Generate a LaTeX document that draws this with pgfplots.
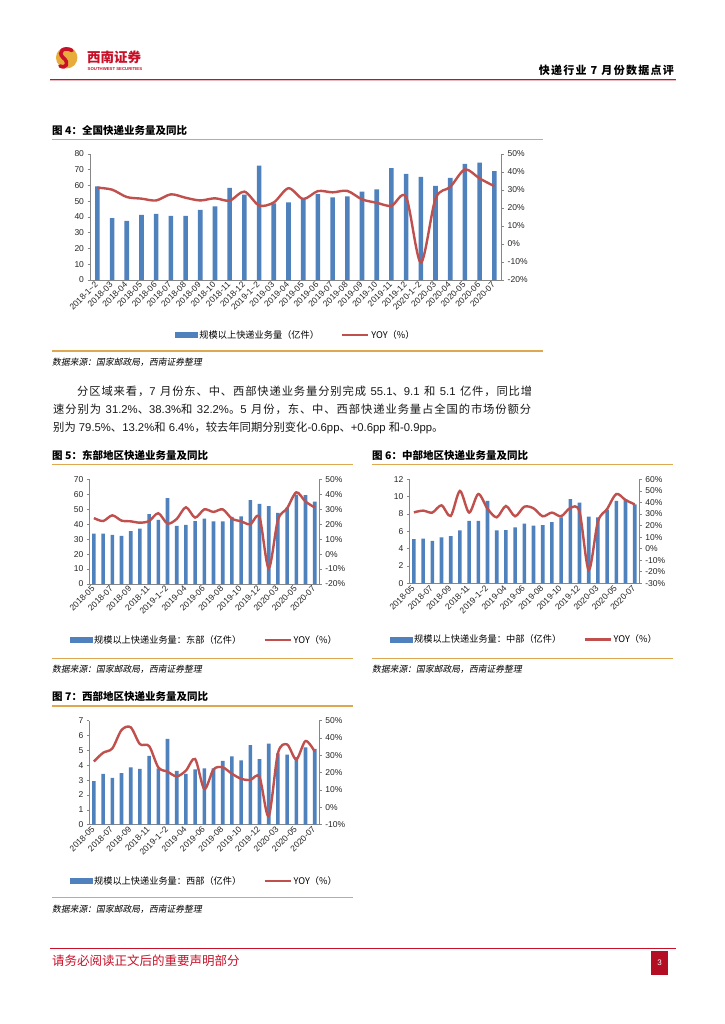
\documentclass[border=0pt]{standalone}
\usepackage{fontspec}
\setmainfont{Liberation Sans}
\newfontfamily\cjk{Noto Sans CJK SC}
\newfontfamily\cjkit[FakeSlant=0.18]{Noto Sans CJK SC}
\usepackage{pgfplots}
\pgfplotsset{compat=1.18}

% stretchable glue between CJK characters (for the justified lines)
\XeTeXinterchartokenstate=1
\newXeTeXintercharclass\cjkcls
\newcount\cc
\def\setcls#1#2{\cc=#1\relax\loop\XeTeXcharclass\cc=\cjkcls\relax\ifnum\cc<#2\relax\advance\cc by 1\relax\repeat}
\setcls{"4E00}{"9FFF}
\setcls{"3000}{"303F}
\setcls{"FF00}{"FFEF}
\XeTeXinterchartoks\cjkcls\cjkcls={\hskip0pt plus 1pt\relax}

\definecolor{barblue}{RGB}{79,129,189}
\definecolor{yoyred}{RGB}{192,80,77}
\definecolor{gold}{RGB}{222,168,80}
\definecolor{hdrred}{RGB}{200,16,40}
\definecolor{axgray}{RGB}{134,134,134}
\definecolor{logogold}{RGB}{232,172,60}

\pgfplotsset{
  chartbase/.style={
    scale only axis, clip=false,
    tick align=outside, major tick length=2.5pt,
    axis line style={draw=axgray, line width=0.6pt},
    tick style={draw=axgray, line width=0.6pt},
    ticklabel style={font=\fontsize{8.5}{9}\selectfont, text=black!85},
    /pgf/number format/assume math mode=true,
  },
  barax/.style={chartbase, axis x line*=bottom, axis y line*=left,
    ybar, bar width=#1, ymin=0, xtick style={draw=none},
    xticklabel style={rotate=45, anchor=east, inner sep=1pt}},
  lineax/.style={chartbase, axis y line*=right, axis x line=none,
    yticklabel={\pgfmathprintnumber{\tick}\%},
    legend columns=2, legend cell align=left,
    legend style={draw=none, fill=none, anchor=center,
      font=\cjk\fontsize{9.2}{10}\selectfont,
      /tikz/every even column/.append style={column sep=20pt}}},
  barkey/.style={legend image code/.code={\fill[barblue] (0pt,-2.6pt) rectangle (22pt,2.6pt);}},
  linekey/.style={legend image code/.code={\draw[yoyred, line width=2.4pt] (0pt,0pt) -- (26pt,0pt);}},
}

\begin{document}
\begin{tikzpicture}[x=1pt, y=-1pt]
\path[use as bounding box, fill=white] (0,0) rectangle (724,1024);

% ---- header
\fill[logogold] (66.7,57.7) circle (10.7);
\draw[hdrred, line width=3.6pt, line cap=round] (72,50.5) .. controls (64,46) and (57,52) .. (63,57.5) .. controls (70,63) and (66,69) .. (60,66);
\node[anchor=west, inner sep=0, text=hdrred, font=\cjk\bfseries\fontsize{13.5}{14}\selectfont] at (87,57.5) {西南证券};
\node[anchor=west, inner sep=0, text=hdrred, font=\bfseries\fontsize{4.3}{5}\selectfont] at (87.5,68.7) {SOUTHWEST SECURITIES};
\node[anchor=east, inner sep=0, font=\cjk\bfseries\fontsize{11}{12}\selectfont] at (674,70) {\makebox[135pt][s]{快递行业 7 月份数据点评}};
\draw[hdrred, line width=1.2pt] (50,79.3) -- (676,79.3);
\draw[hdrred!30, line width=0.6pt] (50,80.6) -- (676,80.6);

% ---- figure 4
\node[anchor=west, inner sep=0, font=\cjk\bfseries\fontsize{10.5}{11}\selectfont] at (52,131) {图 4：全国快递业务量及同比};
\draw[gold, line width=1.2pt] (52,139.5) -- (543,139.5);
\begin{axis}[barax=4.6pt, at={(90pt,-280pt)}, anchor=south west,
  width=411.7pt, height=126pt, xmin=-0.5, xmax=27.5, ymax=80, ytick={0,10,...,80},
  xtick={0,...,27},
  xticklabels={2018-1\textasciitilde2,2018-03,2018-04,2018-05,2018-06,2018-07,2018-08,2018-09,2018-10,2018-11,2018-12,2019-1\textasciitilde2,2019-03,2019-04,2019-05,2019-06,2019-07,2019-08,2019-09,2019-10,2019-11,2019-12,2020-1\textasciitilde2,2020-03,2020-04,2020-05,2020-06,2020-07}]
\addplot[fill=barblue, draw=none] coordinates {
 (0,59.5) (1,39.3) (2,37.5) (3,41.4) (4,42.0) (5,40.7) (6,40.7) (7,44.6) (8,46.7) (9,58.5)
 (10,54.2) (11,72.7) (12,48.6) (13,49.3) (14,51.4) (15,54.6) (16,52.5) (17,53.1) (18,56.1)
 (19,57.6) (20,71.0) (21,67.4) (22,65.5) (23,59.7) (24,64.8) (25,73.8) (26,74.6) (27,69.1)};
\end{axis}
\begin{axis}[lineax, at={(90pt,-280pt)}, anchor=south west,
  width=411.7pt, height=126pt, xmin=-0.5, xmax=27.5, ymin=-20, ymax=50, ytick={-20,-10,...,50},
  legend style={at={(0.5,-0.437)}}]
\addlegendimage{barkey}
\addlegendentry{规模以上快递业务量（亿件）}
\addplot[yoyred, line width=2.4pt, smooth, linekey] coordinates {
 (0,31.3) (1,30.2) (2,26.1) (3,25.2) (4,24.2) (5,27.6) (6,25.7) (7,24.2) (8,25.4) (9,24.1)
 (10,29.1) (11,21.4) (12,23.1) (13,31.0) (14,25.0) (15,29.4) (16,28.7) (17,29.5) (18,24.8)
 (19,22.9) (20,21.2) (21,26.1) (22,-10.3) (23,25.2) (24,31.7) (25,41.4) (26,36.4) (27,32.1)};
\addlegendentry{YOY（\%）}
\end{axis}
\draw[gold, line width=1.2pt] (52,351) -- (543,351);
\node[anchor=west, inner sep=0, font=\cjkit\fontsize{8.8}{9}\selectfont] at (52,362.5) {数据来源：国家邮政局，西南证券整理};

% ---- body text
\begin{scope}[every node/.style={anchor=west, inner sep=0, font=\fontsize{11.3}{13}\selectfont, text=black!90}]
\node at (77,391.5) {\makebox[455pt][s]{{\cjk 分区域来看，}7 {\cjk 月份东、中、西部快递业务量分别完成} 55.1{\cjk 、}9.1 {\cjk 和} 5.1 {\cjk 亿件，同比增}}};
\node at (53,409.5) {\makebox[478pt][s]{{\cjk 速分别为} 31.2\%{\cjk 、}38.3\%{\cjk 和} 32.2\%{\cjk 。}5 {\cjk 月份，东、中、西部快递业务量占全国的市场份额分}}};
\node at (53,428.3) {{\cjk 别为} 79.5\%{\cjk 、}13.2\%{\cjk 和} 6.4\%{\cjk ，较去年同期分别变化}-0.6pp{\cjk 、}+0.6pp {\cjk 和}-0.9pp{\cjk 。}};
\end{scope}

% ---- figure 5
\node[anchor=west, inner sep=0, font=\cjk\bfseries\fontsize{10.5}{11}\selectfont] at (52,455) {图 5：东部地区快递业务量及同比};
\draw[gold, line width=1.2pt] (52,464.3) -- (353,464.3);
\begin{axis}[barax=3.6pt, at={(89.3pt,-584pt)}, anchor=south west,
  width=230pt, height=104.7pt, xmin=-0.5, xmax=24.5, ymax=70, ytick={0,10,...,70},
  xtick={0,2,...,24},
  xticklabels={2018-05,2018-07,2018-09,2018-11,2019-1\textasciitilde2,2019-04,2019-06,2019-08,2019-10,2019-12,2020-03,2020-05,2020-07}]
\addplot[fill=barblue, draw=none] coordinates {
 (0,33.7) (1,33.7) (2,32.8) (3,32.1) (4,35.4) (5,37.0) (6,46.8) (7,42.8) (8,57.5) (9,38.8)
 (10,39.5) (11,42.1) (12,43.7) (13,41.9) (14,41.9) (15,44.8) (16,45.3) (17,56.0) (18,53.5)
 (19,52.0) (20,47.5) (21,51.0) (22,59.7) (23,59.5) (24,55.1)};
\end{axis}
\begin{axis}[lineax, at={(89.3pt,-584pt)}, anchor=south west,
  width=230pt, height=104.7pt, xmin=-0.5, xmax=24.5, ymin=-20, ymax=50, ytick={-20,-10,...,50},
  legend style={at={(0.5,-0.535)}}]
\addlegendimage{barkey}
\addlegendentry{规模以上快递业务量：东部（亿件）}
\addplot[yoyred, line width=2.4pt, smooth, linekey] coordinates {
 (0,24.1) (1,22.1) (2,25.9) (3,22.4) (4,21.9) (5,21.0) (6,22.1) (7,27.3) (8,20.4) (9,23.5)
 (10,31.3) (11,24.4) (12,29.9) (13,28.2) (14,29.9) (15,23.7) (16,21.9) (17,19.9) (18,24.6)
 (19,-9.5) (20,22.8) (21,30.6) (22,41.3) (23,35.1) (24,31.2)};
\addlegendentry{YOY（\%）}
\end{axis}
\draw[gold, line width=1.2pt] (52,658.3) -- (353,658.3);
\node[anchor=west, inner sep=0, font=\cjkit\fontsize{8.8}{9}\selectfont] at (52,669) {数据来源：国家邮政局，西南证券整理};

% ---- figure 6
\node[anchor=west, inner sep=0, font=\cjk\bfseries\fontsize{10.5}{11}\selectfont] at (372,455) {图 6：中部地区快递业务量及同比};
\draw[gold, line width=1.2pt] (372,464.3) -- (673,464.3);
\begin{axis}[barax=3.6pt, at={(409.3pt,-583.3pt)}, anchor=south west,
  width=230pt, height=104pt, xmin=-0.5, xmax=24.5, ymax=12, ytick={0,2,...,12},
  xtick={0,2,...,24},
  xticklabels={2018-05,2018-07,2018-09,2018-11,2019-1\textasciitilde2,2019-04,2019-06,2019-08,2019-10,2019-12,2020-03,2020-05,2020-07}]
\addplot[fill=barblue, draw=none] coordinates {
 (0,5.1) (1,5.15) (2,4.9) (3,5.3) (4,5.45) (5,6.1) (6,7.2) (7,7.2) (8,9.5) (9,6.1)
 (10,6.15) (11,6.45) (12,6.9) (13,6.65) (14,6.7) (15,7.05) (16,7.6) (17,9.7) (18,9.3)
 (19,7.7) (20,7.6) (21,8.5) (22,9.5) (23,9.7) (24,9.1)};
\end{axis}
\begin{axis}[lineax, at={(409.3pt,-583.3pt)}, anchor=south west,
  width=230pt, height=104pt, xmin=-0.5, xmax=24.5, ymin=-30, ymax=60, ytick={-30,-20,...,60},
  legend style={at={(0.5,-0.54)}}]
\addlegendimage{barkey}
\addlegendentry{规模以上快递业务量：中部（亿件）}
\addplot[yoyred, line width=2.4pt, smooth, linekey] coordinates {
 (0,31.4) (1,32.9) (2,31.2) (3,37.5) (4,28.3) (5,49.9) (6,31.2) (7,47.3) (8,34.6) (9,27.1)
 (10,36.9) (11,28.0) (12,36.3) (13,34.9) (14,28.0) (15,31.2) (16,28.0) (17,35.2) (18,32.0)
 (19,-18.5) (20,23.4) (21,34.3) (22,47.3) (23,42.1) (24,38.3)};
\addlegendentry{YOY（\%）}
\end{axis}
\draw[gold, line width=1.2pt] (372,658.3) -- (673,658.3);
\node[anchor=west, inner sep=0, font=\cjkit\fontsize{8.8}{9}\selectfont] at (372,669) {数据来源：国家邮政局，西南证券整理};

% ---- figure 7
\node[anchor=west, inner sep=0, font=\cjk\bfseries\fontsize{10.5}{11}\selectfont] at (52,696.7) {图 7：西部地区快递业务量及同比};
\draw[gold, line width=1.2pt] (52,706) -- (353,706);
\begin{axis}[barax=3.6pt, at={(89.3pt,-824.7pt)}, anchor=south west,
  width=230pt, height=104pt, xmin=-0.5, xmax=24.5, ymax=7, ytick={0,1,...,7},
  xtick={0,2,...,24},
  xticklabels={2018-05,2018-07,2018-09,2018-11,2019-1\textasciitilde2,2019-04,2019-06,2019-08,2019-10,2019-12,2020-03,2020-05,2020-07}]
\addplot[fill=barblue, draw=none] coordinates {
 (0,2.94) (1,3.43) (2,3.16) (3,3.48) (4,3.86) (5,3.75) (6,4.64) (7,3.8) (8,5.77) (9,3.63)
 (10,3.43) (11,3.72) (12,3.79) (13,3.8) (14,4.29) (15,4.6) (16,4.33) (17,5.36) (18,4.42)
 (19,5.45) (20,4.8) (21,4.71) (22,4.55) (23,5.2) (24,5.1)};
\end{axis}
\begin{axis}[lineax, at={(89.3pt,-824.7pt)}, anchor=south west,
  width=230pt, height=104pt, xmin=-0.5, xmax=24.5, ymin=-10, ymax=50, ytick={-10,0,...,50},
  legend style={at={(0.5,-0.54)}}]
\addlegendimage{barkey}
\addlegendentry{规模以上快递业务量：西部（亿件）}
\addplot[yoyred, line width=2.4pt, smooth, linekey] coordinates {
 (0,26.5) (1,31.5) (2,34.0) (3,44.6) (4,46.2) (5,36.5) (6,35.4) (7,23.1) (8,20.6) (9,17.9)
 (10,21.2) (11,27.9) (12,10.6) (13,21.9) (14,23.1) (15,19.4) (16,16.5) (17,15.8) (18,17.5)
 (19,-5.0) (20,31.2) (21,36.3) (22,27.7) (23,38.3) (24,32.2)};
\addlegendentry{YOY（\%）}
\end{axis}
\draw[gold, line width=1.2pt] (52,897.3) -- (353,897.3);
\node[anchor=west, inner sep=0, font=\cjkit\fontsize{8.8}{9}\selectfont] at (52,909) {数据来源：国家邮政局，西南证券整理};

% ---- footer
\draw[hdrred, line width=1.2pt] (50,948.5) -- (676,948.5);
\node[anchor=west, inner sep=0, text=hdrred, font=\cjk\fontsize{12.5}{13}\selectfont] at (52,961) {请务必阅读正文后的重要声明部分};
\fill[hdrred!90!black] (651,951) rectangle (668,975);
\node[text=white, font=\fontsize{8}{9}\selectfont, inner sep=0] at (659.5,963) {3};
\end{tikzpicture}
\end{document}
